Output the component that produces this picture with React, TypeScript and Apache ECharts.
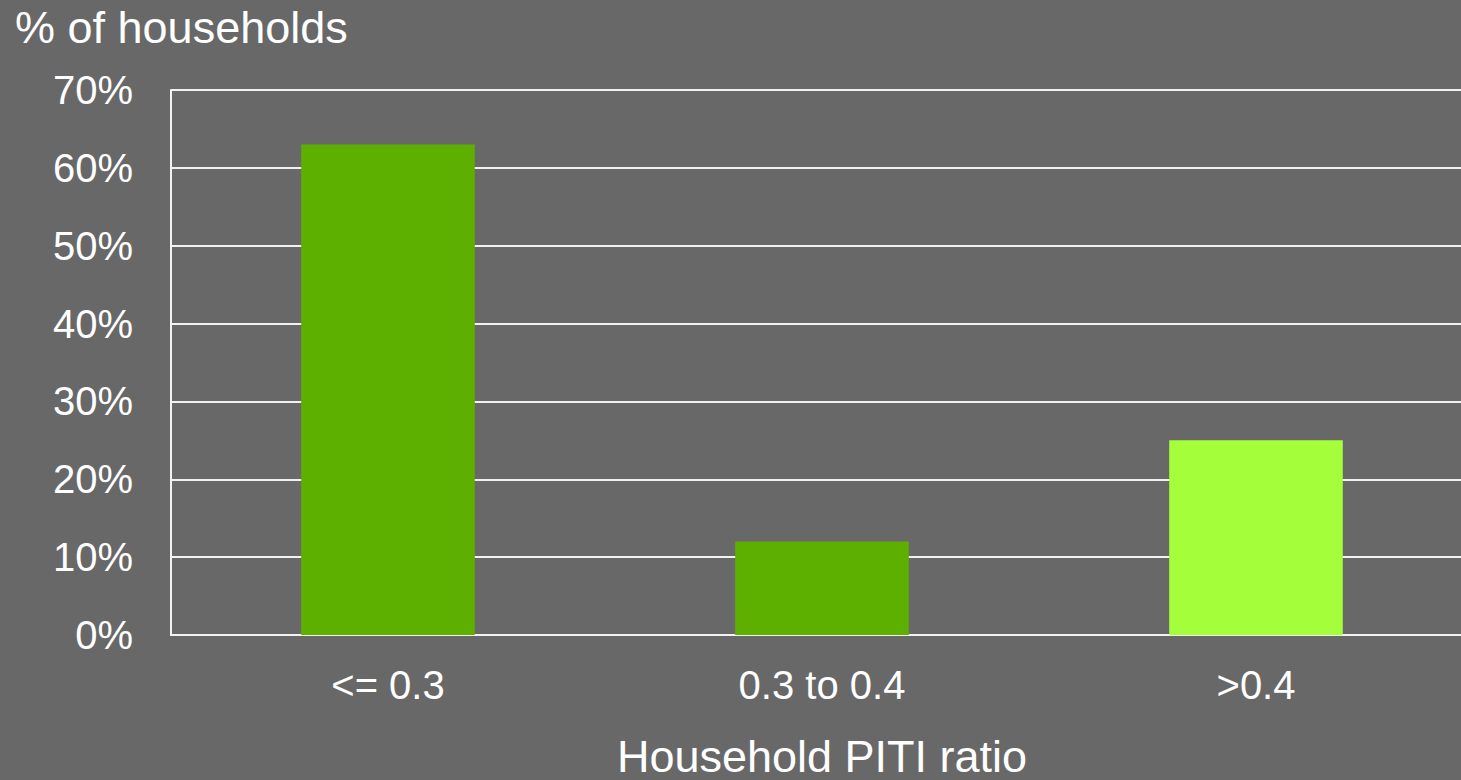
import React, { useEffect, useRef } from "react";
import * as echarts from "echarts";

const categories = ["<= 0.3", "0.3 to 0.4", ">0.4"];
const shares = [63, 12, 25];
const barColors = ["#5eb000", "#5eb000", "#a4ff3a"];
const yTicks = { min: 0, max: 70, interval: 10 };
const yTitle = "% of households";
const xTitle = "Household PITI ratio";

const FONT = "'Liberation Sans', Arial, sans-serif";

export default function App() {
  const ref = useRef<HTMLDivElement>(null);

  useEffect(() => {
    document.body.style.margin = "0";
    if (!ref.current) return;
    const chart = echarts.init(ref.current, undefined, { renderer: "svg" });
    chart.setOption({
      animation: false,
      backgroundColor: "#686868",
      textStyle: { fontFamily: FONT },
      // plot area runs a little past the right edge of the canvas
      grid: {
        left: 171,
        top: 90,
        width: 1302,
        height: 545,
        containLabel: false,
        outerBoundsMode: "none",
      },
      graphic: [
        {
          type: "text",
          left: 15,
          top: 5,
          style: { text: yTitle, fill: "#ffffff", font: `45px ${FONT}` },
        },
      ],
      xAxis: {
        type: "category",
        data: categories,
        axisLine: { show: true, lineStyle: { color: "#f2f2f2", width: 2 } },
        axisTick: { show: false },
        axisLabel: { color: "#ffffff", fontSize: 40, margin: 30 },
        name: xTitle,
        nameLocation: "middle",
        nameGap: 100,
        nameTextStyle: { color: "#ffffff", fontSize: 45, lineHeight: 42 },
      },
      yAxis: {
        type: "value",
        min: yTicks.min,
        max: yTicks.max,
        interval: yTicks.interval,
        axisLine: { show: true, lineStyle: { color: "#f2f2f2", width: 2 } },
        axisTick: { show: false },
        axisLabel: { color: "#ffffff", fontSize: 40, margin: 38, formatter: "{value}%" },
        splitLine: { lineStyle: { color: "#f2f2f2", width: 2 } },
      },
      series: [
        {
          type: "bar",
          data: shares.map((v, i) => ({ value: v, itemStyle: { color: barColors[i] } })),
          barWidth: "40%",
        },
      ],
    });
    return () => chart.dispose();
  }, []);

  return <div ref={ref} style={{ width: 1461, height: 780 }} />;
}
